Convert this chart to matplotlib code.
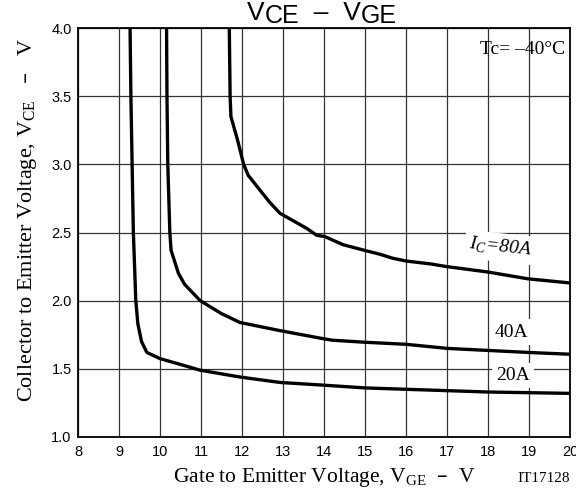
import matplotlib
matplotlib.use("Agg")
import matplotlib.pyplot as plt
from matplotlib.ticker import FormatStrFormatter

vge_20a = [9.27, 9.29, 9.32, 9.35, 9.41, 9.46, 9.55, 9.68, 10.0, 10.57, 10.98,
           11.95, 12.93, 14.0, 15.0, 16.0, 17.0, 18.0, 19.0, 20.0]
vce_20a = [4.0, 3.5, 3.0, 2.5, 2.0, 1.83, 1.70, 1.62, 1.575, 1.526, 1.49,
           1.44, 1.40, 1.38, 1.36, 1.35, 1.34, 1.33, 1.325, 1.32]

vge_40a = [10.16, 10.17, 10.19, 10.24, 10.27, 10.45, 10.6, 10.98, 11.5, 11.95,
           12.93, 14.0, 14.2, 15.0, 16.0, 17.0, 18.0, 19.0, 20.0]
vce_40a = [4.0, 3.5, 3.0, 2.5, 2.37, 2.2, 2.12, 2.0, 1.905, 1.84,
           1.78, 1.72, 1.71, 1.695, 1.68, 1.65, 1.635, 1.62, 1.607]

vge_80a = [11.69, 11.71, 11.73, 11.89, 12.04, 12.15, 12.44, 12.68, 12.93, 13.58,
           13.82, 14.02, 14.47, 15.04, 15.37, 15.69, 16.02, 16.59, 16.99, 18.0,
           18.98, 20.0]
vce_80a = [4.0, 3.5, 3.35, 3.18, 3.0, 2.92, 2.81, 2.72, 2.64, 2.53,
           2.48, 2.47, 2.41, 2.365, 2.34, 2.31, 2.29, 2.27, 2.25, 2.21,
           2.16, 2.13]

x_ticks = list(range(8, 21))
y_ticks = [1.0, 1.5, 2.0, 2.5, 3.0, 3.5, 4.0]

SERIF = "Liberation Serif"
SANS = "Liberation Sans"
DASH = "\u2013"

fig = plt.figure(figsize=(5.76, 4.88), dpi=100)
ax = fig.add_axes([78 / 576, 1 - 437 / 488, (570 - 78) / 576, (437 - 28) / 488])

for x, y in [(vge_20a, vce_20a), (vge_40a, vce_40a), (vge_80a, vce_80a)]:
    ax.plot(x, y, color="black", lw=2.4, solid_capstyle="butt", zorder=3)

ax.set_xlim(8, 20)
ax.set_ylim(1, 4)
ax.set_xticks(x_ticks)
ax.set_yticks(y_ticks)
ax.yaxis.set_major_formatter(FormatStrFormatter("%.1f"))
ax.grid(True, color="#333333", lw=0.9)
ax.set_axisbelow(True)
ax.tick_params(length=0, labelsize=10.5)
ax.tick_params(axis="x", pad=6)
ax.tick_params(axis="y", pad=4.5)
for lab in ax.get_xticklabels() + ax.get_yticklabels():
    lab.set_family(SANS)
for sp in ax.spines.values():
    sp.set_linewidth(1.3)

# curve labels
box = dict(facecolor="white", edgecolor="none", pad=3)
ax.text(18.56, 1.77, "40A", family=SERIF, fontsize=14, ha="center", va="center",
        bbox=box, zorder=4)
ax.text(18.6, 1.45, "20A", family=SERIF, fontsize=14, ha="center", va="center",
        bbox=box, zorder=4)
ax.text(18.3, 2.39, r"I$_\mathregular{C}$=80A", family=SERIF, style="italic",
        fontsize=14, ha="center", va="center", rotation=-6, bbox=box, zorder=4)
ax.text(19.88, 3.81, "Tc= " + DASH + "40\u00b0C", family=SERIF, fontsize=14,
        ha="right", va="baseline", zorder=4)

# title built from pieces so the subscripts stay large
t = fig.text(247 / 576, 1 - 20 / 488, "V", family=SANS, fontsize=19, va="baseline")
pieces = [("CE", -2.5, 18), ("  " + DASH + "  V", 2.5, 19), ("GE", -2.5, 18)]
for s, dy, fs in pieces:
    t = ax.annotate(s, xy=(1, 0), xycoords=t, xytext=(0, dy), textcoords="offset points",
                    family=SANS, fontsize=fs, ha="left", va="bottom",
                    annotation_clip=False)

fig.text(28 / 576, 1 - 220 / 488,
         r"Collector to Emitter Voltage, V$_\mathregular{CE}$   " + DASH + "   V",
         family=SERIF, fontsize=16, rotation=90, ha="center", va="center")
fig.text(324 / 576, 6 / 488,
         r"Gate to Emitter Voltage, V$_\mathregular{GE}$  " + DASH + "  V",
         family=SERIF, fontsize=15.5, ha="center", va="baseline")
fig.text(570 / 576, 6 / 488, "IT17128", family=SERIF, fontsize=11,
         ha="right", va="baseline")

fig.savefig("out.png", dpi=100)
